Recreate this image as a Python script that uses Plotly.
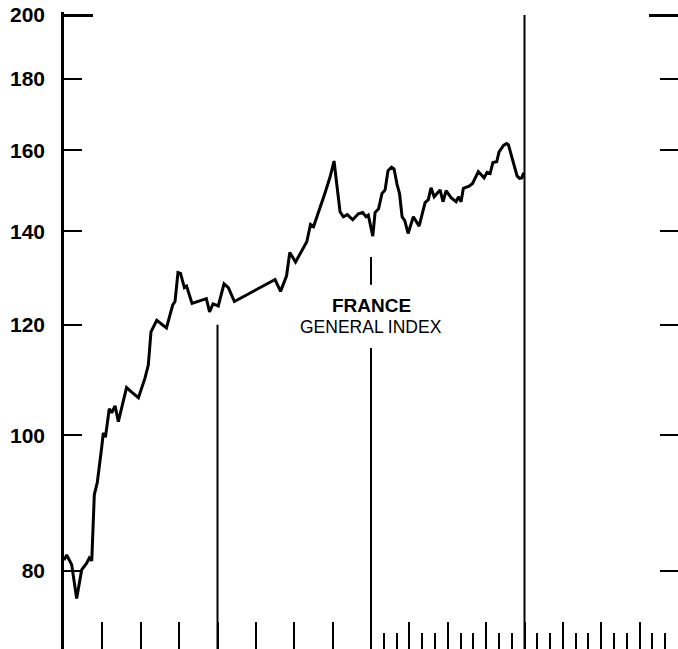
import plotly.graph_objects as go

# months from the start of the chart, index level (log scale)
months = [0, 0.21, 0.60, 0.99, 1.38, 1.77, 1.98, 2.17, 2.37, 2.60,
          2.95, 3.07, 3.24, 3.54, 3.73, 3.99, 4.25, 4.89, 5.29, 5.82,
          6.33, 6.59, 6.80, 7.25, 8.01, 8.50, 8.68, 8.91, 9.11, 9.41,
          9.58, 10.01, 11.13, 11.38, 11.65, 12.06, 12.51, 12.85, 13.32, 16.50,
          16.93, 17.40, 17.65, 18.10, 18.98, 19.27, 19.51, 19.62, 20.02, 20.41,
          20.80, 21.11, 21.58, 21.84, 22.15, 22.57, 23.01, 23.35, 23.61, 23.79,
          24.14, 24.32, 24.59, 24.86, 25.10, 25.33, 25.61, 25.80, 26.04, 26.23,
          26.43, 26.64, 26.90, 27.31, 27.76, 28.23, 28.48, 28.69, 28.94, 29.40,
          29.63, 29.87, 30.26, 30.65, 30.84, 31.04, 31.22, 31.67, 31.94, 32.39,
          32.84, 33.07, 33.31, 33.53, 33.83, 34.01, 34.36, 34.60, 34.74, 34.95,
          35.18, 35.42, 35.61, 35.79, 35.94]
index = [81.4, 82.1, 80.8, 76.4, 80.1, 81.0, 81.7, 81.3, 90.7, 92.5,
         98.1, 100.4, 99.7, 104.5, 103.8, 105.0, 102.3, 108.2, 107.4, 106.4,
         109.9, 112.3, 118.6, 120.9, 119.4, 124.0, 124.7, 130.8, 130.6, 127.6,
         127.9, 124.3, 125.3, 122.6, 124.2, 123.8, 128.4, 127.6, 124.7, 129.3,
         126.8, 130.1, 135.2, 133.1, 137.6, 141.6, 141.1, 142.0, 145.8, 149.2,
         153.1, 157.2, 144.6, 143.4, 143.9, 142.7, 144.1, 144.4, 143.4, 143.8,
         138.9, 144.4, 145.3, 149.0, 149.9, 154.7, 155.6, 155.2, 151.2, 149.0,
         143.4, 142.5, 139.5, 143.4, 141.2, 146.8, 147.5, 150.4, 148.2, 149.9,
         147.0, 149.7, 148.0, 147.0, 148.2, 147.0, 150.3, 150.8, 151.5, 154.5,
         152.9, 154.3, 154.0, 156.8, 157.0, 159.6, 161.3, 161.8, 161.5, 159.1,
         155.9, 153.4, 152.8, 152.9, 154.2]

# year separators (segments)
sep_x = [12, 24, 24, 36]
sep_top = [120.0, 134.2, 115.5, 200]
sep_bottom = [70.3, 128.2, 70.3, 70.3]

y_ticks = [80, 100, 120, 140, 160, 180, 200]
quarter_ticks = [3, 6, 9, 12, 15, 18, 21, 24, 27, 30, 33, 36, 39, 42, 45]
month_ticks = [25, 26, 28, 29, 31, 32, 34, 35, 37, 38, 40, 41, 43, 44, 46, 47]

# log10 range: a hair above 200 so the top tick is kept
y_range = [1.847, 2.3032]
font = "Liberation Sans, Arial, sans-serif"

sx, sy = [], []
for x, t, b in zip(sep_x, sep_top, sep_bottom):
    sx += [x, x, None]
    sy += [t, b, None]

fig = go.Figure()
fig.add_trace(go.Scatter(x=sx, y=sy, mode="lines", yaxis="y2",
                         line=dict(color="black", width=2), hoverinfo="skip"))
fig.add_trace(go.Scatter(x=months, y=index, mode="lines",
                         line=dict(color="black", width=3)))

fig.update_layout(
    template="none",
    autosize=False, width=678, height=649,
    margin=dict(l=64, r=0, t=12, b=0),
    paper_bgcolor="white", plot_bgcolor="white",
    showlegend=False,
    xaxis=dict(range=[0, 48], automargin=False, showgrid=False, zeroline=False,
               showline=False,
               tickvals=quarter_ticks, ticks="inside", ticklen=27, tickwidth=2,
               tickcolor="black", showticklabels=False,
               minor=dict(tickvals=month_ticks, ticks="inside", ticklen=16,
                          tickwidth=2, tickcolor="black")),
    yaxis=dict(type="log", range=y_range, automargin=False, showgrid=False,
               zeroline=False,
               showline=True, linecolor="black", linewidth=2.5, mirror="ticks",
               tickvals=y_ticks, ticktext=[str(v) for v in y_ticks],
               ticks="inside", ticklen=18, tickwidth=2, tickcolor="black",
               ticklabelstandoff=12,
               tickfont=dict(family=font, size=21, color="black", weight="bold")),
    yaxis2=dict(type="log", range=y_range, overlaying="y", side="left",
                automargin=False,
                showgrid=False, zeroline=False, showline=False, mirror="ticks",
                tickvals=[200], ticks="inside", ticklen=29, tickwidth=2.5,
                tickcolor="black", showticklabels=False),
)

fig.add_annotation(x=24, y=0.540, xref="x", yref="paper", text="<b>FRANCE</b>",
                   showarrow=False, yanchor="middle",
                   font=dict(family=font, size=19, color="black"))
fig.add_annotation(x=24, y=0.506, xref="x", yref="paper", text="GENERAL INDEX",
                   showarrow=False, yanchor="middle",
                   font=dict(family=font, size=17.5, color="black"))

fig.write_html("out.html", config={"displayModeBar": False},
               post_script="document.body.style.margin='0';")
